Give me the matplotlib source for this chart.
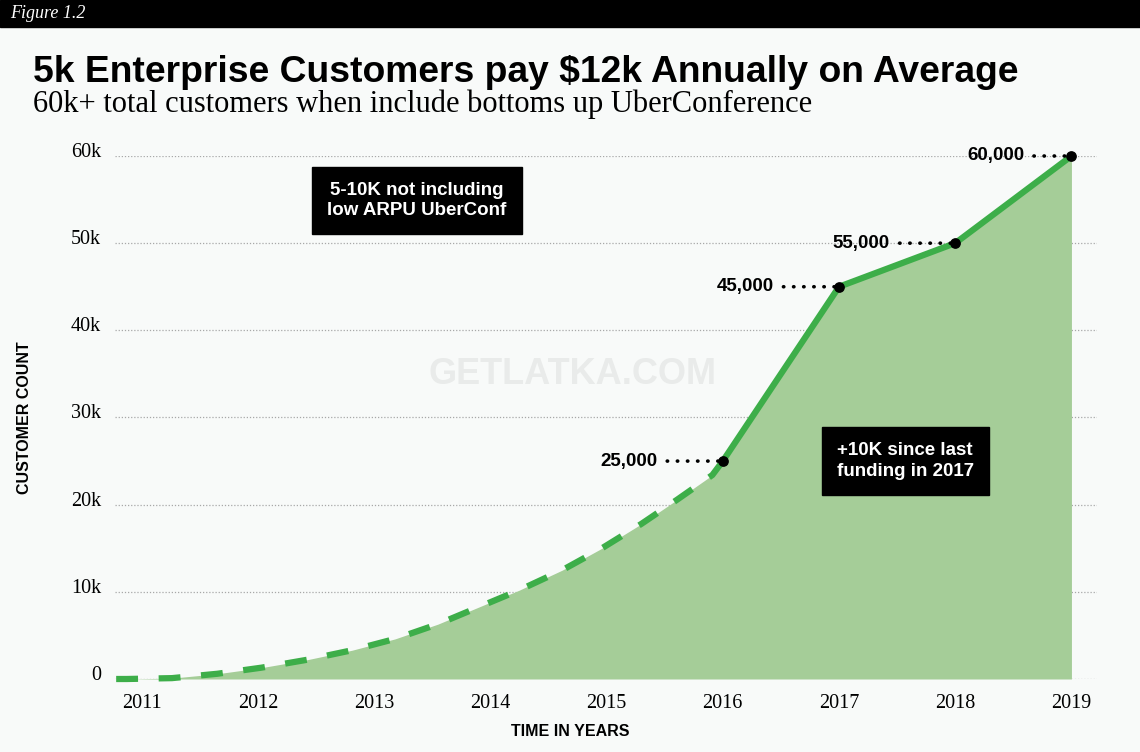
import numpy as np
import matplotlib.pyplot as plt
from matplotlib.transforms import ScaledTranslation

# -----------------------------
# DATA
# -----------------------------
years = [2011, 2012, 2013, 2014, 2015, 2016, 2017, 2018, 2019]

# early estimate curve (dashed), in customers
est_years = [2010.78, 2010.87, 2011.26, 2011.65, 2012.03, 2012.42, 2012.81,
             2013.18, 2013.55, 2014.25, 2014.62, 2014.96, 2015.30, 2015.61,
             2015.91, 2016.0]
est_values = [0, 0, 100, 600, 1300, 2200, 3300, 4600, 6300, 10200, 12500,
              15000, 17800, 20600, 23400, 25000]

# reported points (solid)
pt_years = [2016, 2017, 2018, 2019]
pt_values = [25000, 45000, 50000, 60000]
pt_labels = ["25,000", "45,000", "55,000", "60,000"]
pt_offsets = [47, 47, 47, 34]

y_ticks = [0, 10000, 20000, 30000, 40000, 50000, 60000]
y_tick_labels = ["0", "10k", "20k", "30k", "40k", "50k", "60k"]

GREEN = "#3dae49"
FILL = "#a5cd98"
BG = "#f8faf9"
SANS = ["Liberation Sans", "DejaVu Sans"]
SERIF = ["Liberation Serif", "DejaVu Serif"]

# -----------------------------
# FIGURE
# -----------------------------
fig = plt.figure(figsize=(11.4, 7.52), dpi=100, facecolor=BG)
ax = fig.add_axes([115 / 1140, 1 - 679 / 752, (1097 - 115) / 1140, (679 - 156) / 752])
ax.set_facecolor(BG)

# header bar
fig.patches.append(plt.Rectangle((0, 1 - 27 / 752), 1, 27 / 752, transform=fig.transFigure,
                                 color="black", zorder=0))
fig.text(10 / 1140, 1 - 14 / 752, "Figure 1.2", color="white", fontsize=13,
         style="italic", family=SERIF, va="center", ha="left")

fig.text(33 / 1140, 1 - 73 / 752, "5k Enterprise Customers pay $12k Annually on Average",
         fontsize=26.8, fontweight="bold", family=SANS, va="center", ha="left")
fig.text(33 / 1140, 1 - 104 / 752, "60k+ total customers when include bottoms up UberConference",
         fontsize=22, family=SERIF, va="center", ha="left")

# watermark
fig.text(572 / 1140, 1 - 375 / 752, "GETLATKA.COM", fontsize=26, fontweight="bold",
         family=SANS, color="#e9ebea", ha="center", va="center", zorder=0)

# -----------------------------
# AREA + LINES
# -----------------------------
all_x = est_years + pt_years[1:]
all_y = est_values + pt_values[1:]
ax.fill_between(all_x, all_y, 0, color=FILL, lw=0, zorder=2)

ax.plot(est_years, est_values, color=GREEN, lw=4.5, linestyle=(0, (3.5, 3.3)),
        dash_capstyle="butt", zorder=3, clip_on=False)
ax.plot(pt_years, pt_values, color=GREEN, lw=4.5, solid_capstyle="round",
        solid_joinstyle="miter", zorder=3, clip_on=False)
ax.scatter(pt_years, pt_values, s=45, color="black", zorder=5, clip_on=False)

for x, v, lab, off in zip(pt_years, pt_values, pt_labels, pt_offsets):
    ax.annotate(lab, xy=(x, v), xytext=(-off, 0), textcoords="offset points",
                ha="right", va="center", fontsize=13.5, fontweight="bold", family=SANS,
                arrowprops=dict(arrowstyle="-", color="black", lw=2.6,
                                linestyle=(0, (0.1, 2.7)), capstyle="round",
                                shrinkA=5, shrinkB=3),
                zorder=6, annotation_clip=False)

# note boxes
box = dict(boxstyle="square,pad=0.8", fc="black", ec="black")
ax.text(2013.37, 54900, "5-10K not including\nlow ARPU UberConf", color="white",
        fontsize=13.5, fontweight="bold", family=SANS, ha="center", va="center",
        linespacing=1.3, bbox=box, zorder=7)
ax.text(2017.57, 25000, "+10K since last\nfunding in 2017", color="white",
        fontsize=13.5, fontweight="bold", family=SANS, ha="center", va="center",
        linespacing=1.3, bbox=box, zorder=7)

# -----------------------------
# AXES STYLING
# -----------------------------
ax.set_xlim(2010.77, 2019.22)
ax.set_ylim(0, 60000)
ax.set_xticks(years)
ax.set_xticklabels([str(y) for y in years], family=SERIF, fontsize=14.5)
ax.set_yticks(y_ticks)
ax.set_yticklabels(y_tick_labels, family=SERIF, fontsize=14.5)
ax.tick_params(axis="both", length=0)
ax.tick_params(axis="x", pad=11)
ax.tick_params(axis="y", pad=10)
for lbl in ax.get_yticklabels():
    lbl.set_transform(lbl.get_transform() + ScaledTranslation(0, 6 / 100, fig.dpi_scale_trans))

ax.grid(axis="y", color="#a8a8a8", linestyle=(0, (1, 1.5)), lw=0.9, zorder=1)
ax.grid(axis="x", visible=False)
ax.set_axisbelow(True)
for s in ax.spines.values():
    s.set_visible(False)

fig.text(25 / 1140, 1 - 418 / 752, "CUSTOMER COUNT", rotation=90, fontsize=11.5,
         fontweight="bold", family=SANS, ha="center", va="center")
fig.text(570 / 1140, 1 - 732 / 752, "TIME IN YEARS", fontsize=11.5,
         fontweight="bold", family=SANS, ha="center", va="center")

fig.savefig("out.png", dpi=100, facecolor=BG)
